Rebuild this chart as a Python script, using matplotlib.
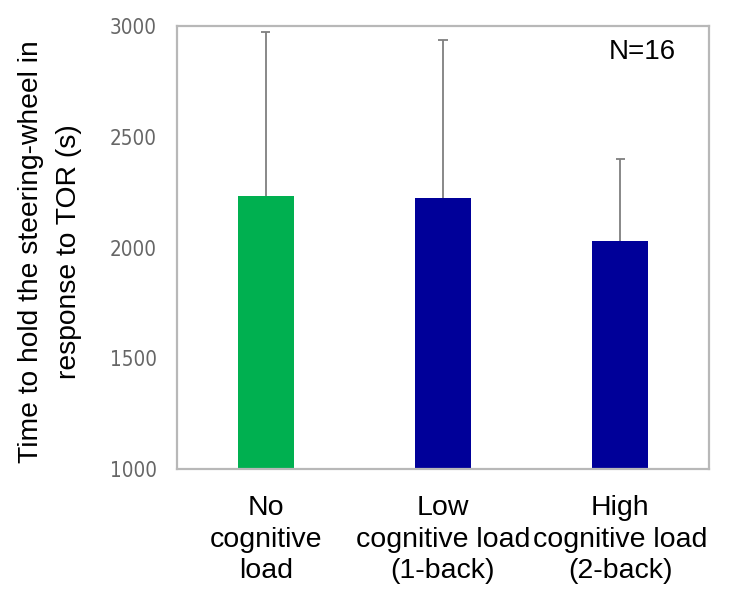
import matplotlib
matplotlib.use("Agg")
import matplotlib.pyplot as plt

categories = ["No\ncognitive\nload", "Low\ncognitive load\n(1-back)", "High\ncognitive load\n(2-back)"]
means = [2232, 2223, 2029]
err_upper = [741, 714, 370]
colors = ["#00B050", "#000099", "#000099"]
yticks = [1000, 1500, 2000, 2500, 3000]

W, H = 739, 591
fig = plt.figure(figsize=(W / 100, H / 100), dpi=100)
ax = fig.add_axes([177 / W, (H - 469) / H, (709 - 177) / W, (469 - 26) / H])

x = list(range(len(categories)))
ax.bar(x, means, width=0.316, color=colors, zorder=2)
tops = [m + e for m, e in zip(means, err_upper)]
ax.vlines(x, means, tops, color="#7f7f7f", linewidth=1.3, zorder=3)
ax.hlines(tops, [xi - 0.026 for xi in x], [xi + 0.026 for xi in x],
          color="#7f7f7f", linewidth=1.3, zorder=3)

ax.set_xlim(-0.5, 2.5)
ax.set_ylim(1000, 3000)
ax.set_yticks(yticks)
ax.set_yticklabels([str(t) for t in yticks], fontsize=14.8, color="#666666",
                   fontfamily="DejaVu Sans", fontstretch="condensed")
ax.set_xticks(x)
ax.set_xticklabels(categories, fontsize=20.5, fontfamily="Liberation Sans",
                   linespacing=1.27)
ax.tick_params(axis="y", length=0, pad=14.4)
ax.tick_params(axis="x", length=0, pad=19)
for s in ax.spines.values():
    s.set_color("#b8b8b8")
    s.set_linewidth(1.6)

ax.text((676 - 177) / (709 - 177), (469 - 52) / (469 - 26), "N=16",
        transform=ax.transAxes, ha="right", va="center",
        fontsize=20, fontfamily="Liberation Sans")

fig.text(50 / W, 1 - 252 / H,
         "Time to hold the steering-wheel in\nresponse to TOR (s)",
         rotation=90, ha="center", va="center", fontsize=20.3,
         fontfamily="Liberation Sans", linespacing=1.62)

fig.savefig("out.png", dpi=100)
